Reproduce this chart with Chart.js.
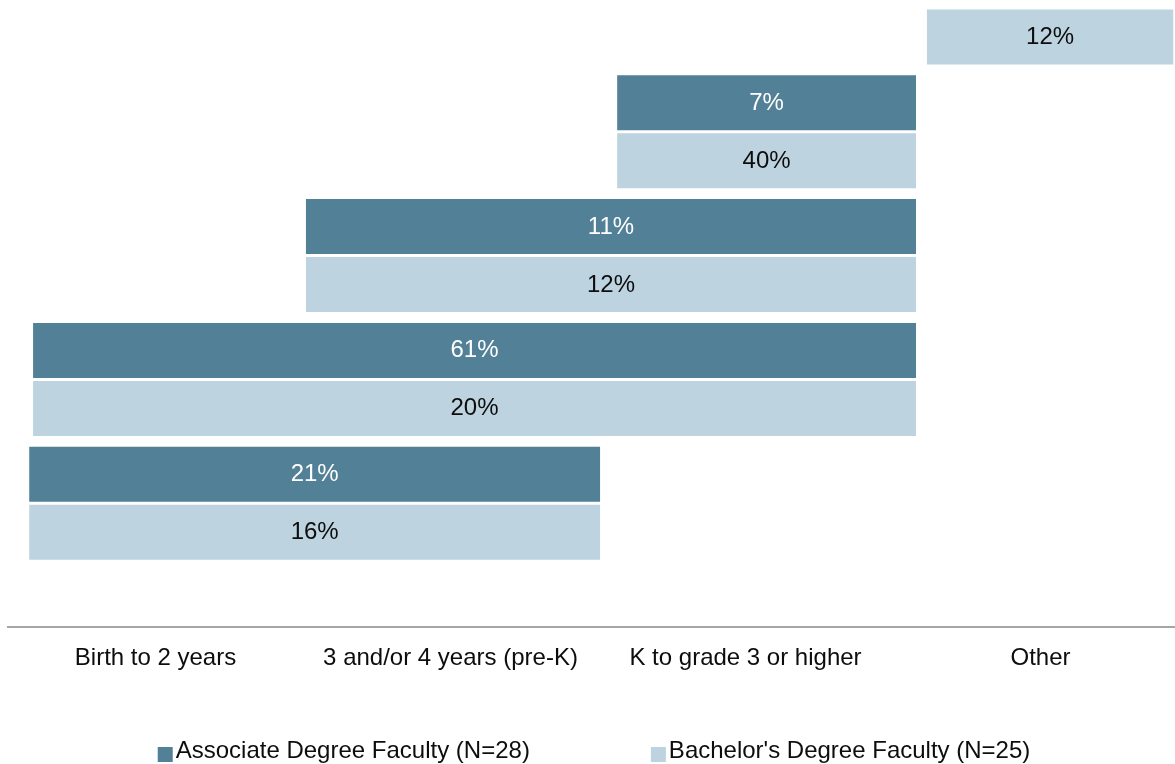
<!DOCTYPE html>
<html>
<head>
<meta charset="utf-8">
<script src="https://cdn.jsdelivr.net/npm/chart.js@4/dist/chart.umd.min.js"></script>
<style>
  html, body { margin: 0; padding: 0; background: #ffffff; overflow: hidden; }
  #wrap { width: 1188px; height: 770px; position: relative; }
</style>
</head>
<body>
<div id="wrap"><canvas id="c"></canvas></div>
<script>
// Age-range categories along the horizontal axis
const categories = ['Birth to 2 years', '3 and/or 4 years (pre-K)', 'K to grade 3 or higher', 'Other'];
// Rows (top to bottom): age span covered, in category units (0 = start of "Birth to 2 years")
const rowNames = ['Other', 'K to grade 3 or higher', '3/4 years to grade 3+', 'Birth to grade 3+', 'Birth to pre-K', ''];
const rowStart = [3.115, 2.065, 1.01, 0.085, 0.072];
const rowEnd   = [3.95, 3.078, 3.078, 3.078, 2.007];
// Percent of faculty in each row
const associatePct = [null, 7, 11, 61, 21];
const bachelorPct  = [12, 40, 12, 20, 16];
const seriesNames = ['Associate Degree Faculty (N=28)', "Bachelor's Degree Faculty (N=25)"];
const seriesColors = ['#528096', '#BDD3DF'];
const labelColors = ['#ffffff', '#0d0d0d'];

const FONT = '"Liberation Sans", Arial, sans-serif';

function spans(pcts) {
  return pcts.map((p, i) => (p === null ? null : [rowStart[i], rowEnd[i]]));
}

const pctLabels = {
  id: 'pctLabels',
  afterDatasetsDraw(chart) {
    const ctx = chart.ctx;
    ctx.save();
    ctx.font = '24px ' + FONT;
    ctx.textAlign = 'center';
    ctx.textBaseline = 'alphabetic';
    chart.data.datasets.forEach((ds, di) => {
      const meta = chart.getDatasetMeta(di);
      meta.data.forEach((el, i) => {
        const v = ds.pct[i];
        if (v === null || v === undefined) return;
        const c = el.getCenterPoint();
        ctx.fillStyle = labelColors[di];
        ctx.fillText(v + '%', c.x, c.y + 7);
      });
    });
    ctx.restore();
  }
};

const bottomLegend = {
  id: 'bottomLegend',
  afterDraw(chart) {
    const ctx = chart.ctx;
    ctx.save();
    ctx.font = '24px ' + FONT;
    ctx.textBaseline = 'alphabetic';
    const box = 15, gapText = 3, gapItem = 121;
    const widths = chart.data.datasets.map(ds => box + gapText + ctx.measureText(ds.label).width);
    const total = widths.reduce((a, b) => a + b, 0) + gapItem * (widths.length - 1);
    let x = (chart.width - total) / 2;
    chart.data.datasets.forEach((ds, i) => {
      ctx.fillStyle = ds.backgroundColor;
      ctx.fillRect(x, 747, box, box);
      ctx.fillStyle = '#0d0d0d';
      ctx.fillText(ds.label, x + box + gapText, 758);
      x += widths[i] + gapItem;
    });
    ctx.restore();
  }
};

new Chart(document.getElementById('c'), {
  type: 'bar',
  data: {
    labels: rowNames,
    datasets: [
      { label: seriesNames[0], data: spans(associatePct), pct: associatePct, backgroundColor: seriesColors[0], borderWidth: 0 },
      { label: seriesNames[1], data: spans(bachelorPct), pct: bachelorPct, backgroundColor: seriesColors[1], borderWidth: 0 }
    ]
  },
  options: {
    indexAxis: 'y',
    responsive: true,
    maintainAspectRatio: false,
    animation: false,
    categoryPercentage: 0.937,
    barPercentage: 0.948,
    layout: { padding: { left: 8, top: 8, right: 0, bottom: 0 } },
    plugins: { legend: { display: false }, tooltip: { enabled: false } },
    scales: {
      y: {
        type: 'category',
        offset: false,
        display: false,
        grid: { display: false }
      },
      x: {
        type: 'linear',
        position: 'bottom',
        min: 0,
        max: 4,
        grid: { display: false, drawTicks: false },
        border: { display: true, color: '#A6A6A6', width: 2 },
        afterBuildTicks(scale) {
          scale.ticks = categories.map((_, i) => ({ value: i + 0.5 }));
        },
        afterFit(scale) { scale.height = 143; },
        ticks: {
          padding: 17,
          color: '#0d0d0d',
          font: { size: 24, family: FONT },
          maxRotation: 0,
          autoSkip: false,
          callback(value) { return categories[Math.floor(value)]; }
        }
      }
    }
  },
  plugins: [pctLabels, bottomLegend]
});
</script>
</body>
</html>
